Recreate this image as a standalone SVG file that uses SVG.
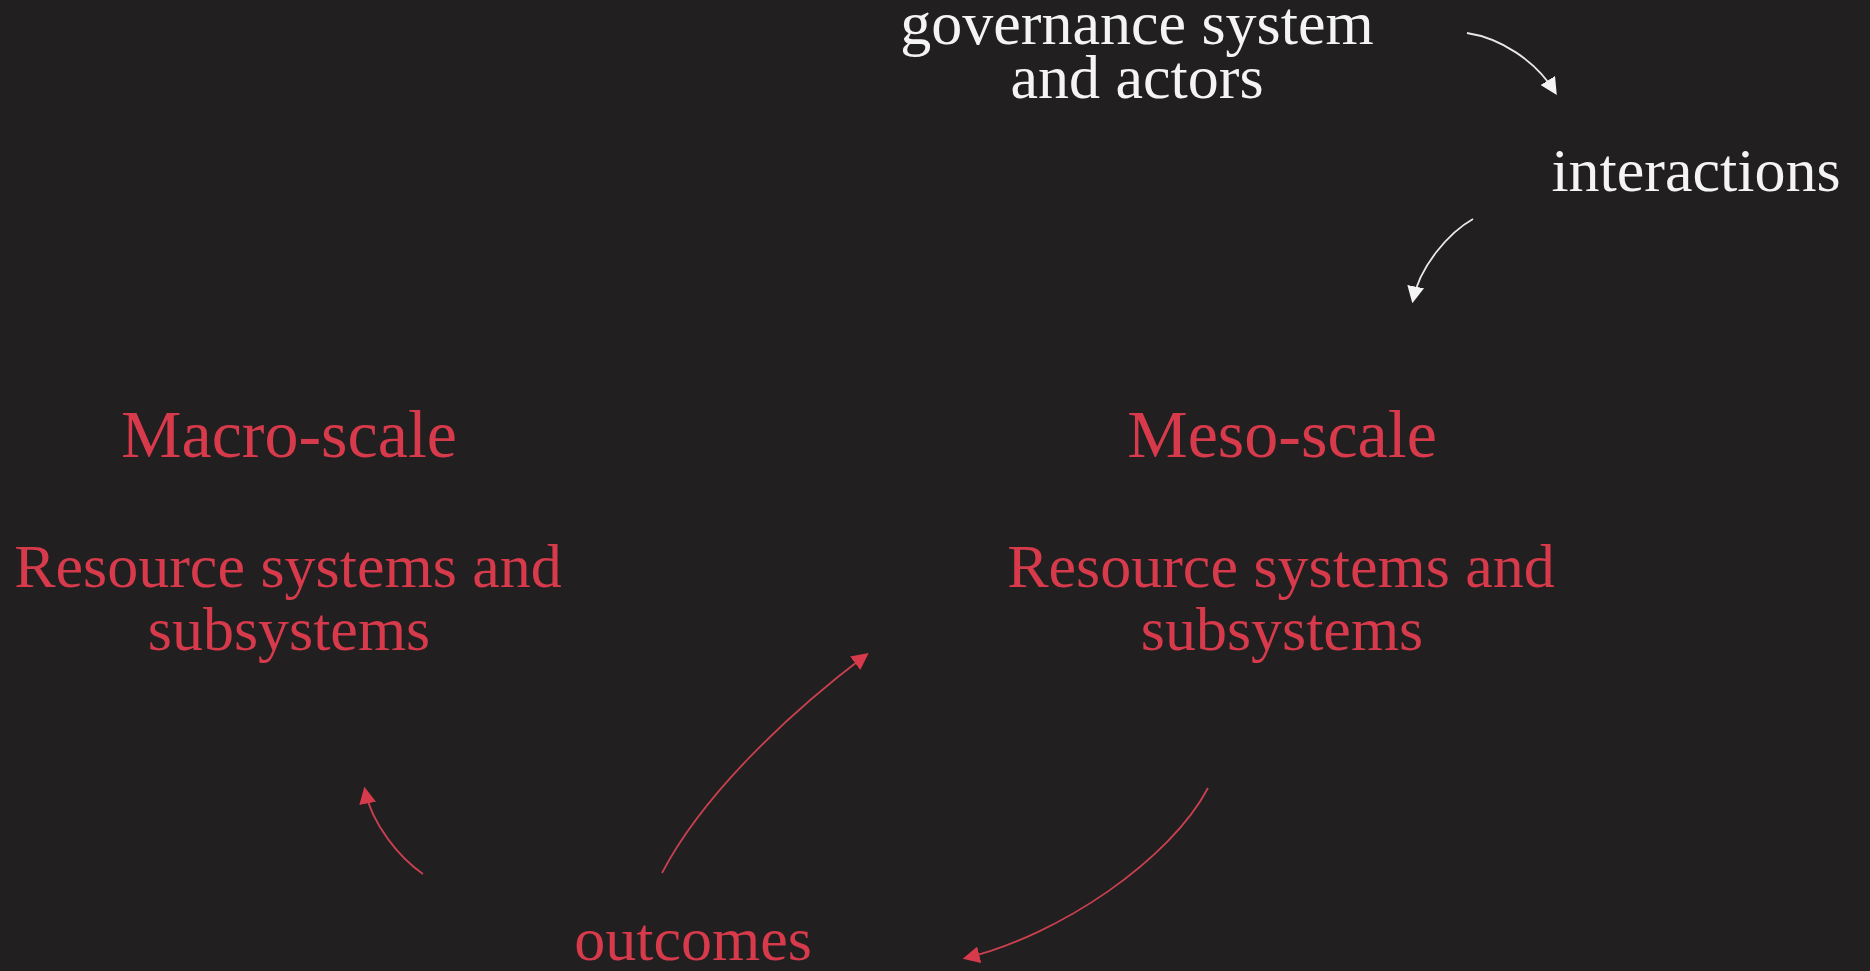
<svg xmlns="http://www.w3.org/2000/svg" width="1870" height="971" viewBox="0 0 1870 971">
<style>
.t{font-family:"Liberation Serif","DejaVu Serif",serif;font-size:62px;text-anchor:middle}
.w{fill:#f4f4f4}
.r{fill:#d63a4b}
.big{font-size:68px}
.cw{fill:none;stroke:#e8e8e8;stroke-width:1.8}
.cr{fill:none;stroke:#c9404f;stroke-width:1.8}
</style>
<defs>
<marker id="aw" viewBox="0 0 10 10" refX="8" refY="5" markerWidth="17" markerHeight="17" markerUnits="userSpaceOnUse" orient="auto">
<path d="M0,0 L10,5 L0,10 z" fill="#f4f4f4"/>
</marker>
<marker id="ar" viewBox="0 0 10 10" refX="8" refY="5" markerWidth="17" markerHeight="17" markerUnits="userSpaceOnUse" orient="auto">
<path d="M0,0 L10,5 L0,10 z" fill="#d63a4b"/>
</marker>
</defs>
<rect width="1870" height="971" fill="#211f20"/>
<g id="governance">
<text class="t w" x="1137" y="44">governance system</text>
<text class="t w" x="1137" y="98">and actors</text>
</g>
<g id="interactions">
<text class="t w" x="1696" y="191">interactions</text>
</g>
<g id="macro">
<text class="t r big" x="289" y="457">Macro-scale</text>
<text class="t r" x="288" y="587">Resource systems and</text>
<text class="t r" x="289" y="650">subsystems</text>
</g>
<g id="meso">
<text class="t r big" x="1282" y="457">Meso-scale</text>
<text class="t r" x="1281" y="587">Resource systems and</text>
<text class="t r" x="1282" y="650">subsystems</text>
</g>
<g id="outcomes">
<text class="t r" x="693" y="960">outcomes</text>
</g>
<g id="connectors">
<path class="cw" d="M1467,33 C1500,38 1535,60 1555,92" marker-end="url(#aw)"/>
<path class="cw" d="M1473,219 C1450,232 1420,265 1413,300" marker-end="url(#aw)"/>
<path class="cr" d="M423,874 C400,858 372,825 365,790" marker-end="url(#ar)"/>
<path class="cr" d="M662,873 C700,800 780,720 866,655" marker-end="url(#ar)"/>
<path class="cr" d="M1208,788 C1170,860 1060,935 966,958" marker-end="url(#ar)"/>
</g>
</svg>
